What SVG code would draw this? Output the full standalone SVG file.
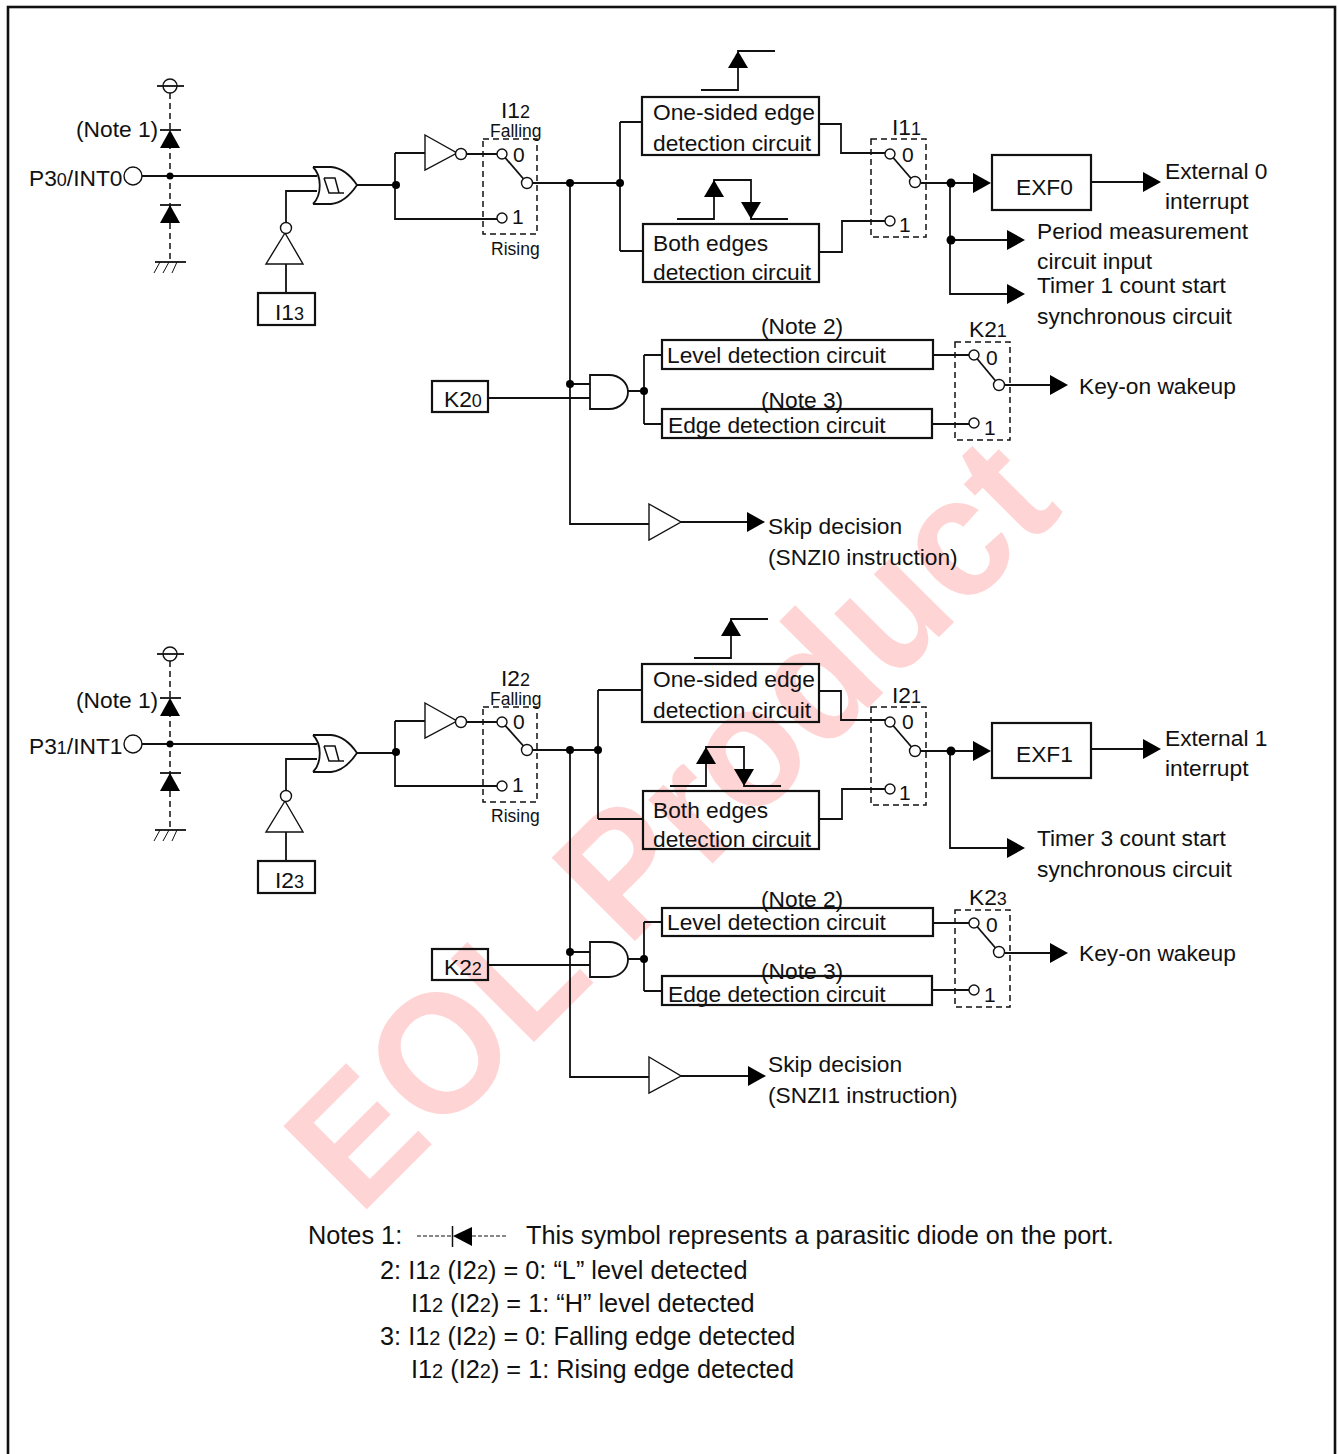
<svg xmlns="http://www.w3.org/2000/svg" width="1339" height="1454" viewBox="0 0 1339 1454">
<style>
text{font-family:"Liberation Sans",Arial,sans-serif;font-size:22.75px;fill:#111}
.s{font-size:18px}
.m{font-size:17.5px}
.n{font-size:21px}
#notes text{font-size:25.3px}
#notes .s{font-size:20px}
.wm{font-size:163px;font-weight:bold;fill:#ffd4d4}
path,line,polyline,rect,circle{fill:none;stroke:#111;stroke-width:1.8}
.box{fill:none;stroke-width:2.2}
.dash{stroke-width:1.5;stroke-dasharray:6 4}
.pd{stroke-width:1.5;stroke-dasharray:6 4}
.o{fill:#fff;stroke-width:1.4}
.d{fill:#000;stroke:none}
.t{fill:#000;stroke:none}
.g{fill:none;stroke-width:1.5}
.b{stroke-width:1.4}
.thin{stroke-width:1}
.fr{stroke-width:2.6}
</style>
<defs>
<polygon id="ar" class="t" points="-18,-10 0,0 -18,10"/>
<polygon id="au" class="t" points="0,0 10,17 -10,17"/>
<polygon id="ad" class="t" points="0,0 10,-17 -10,-17"/>
<g id="diode"><line x1="-10" y1="0" x2="11" y2="0"/><polygon class="t" points="0,0 10,18 -10,18"/></g>
</defs>
<rect id="frame" class="fr" x="8" y="7" width="1327" height="1460"/>
<text id="watermark" class="wm" x="0" y="0" transform="translate(359 1217) rotate(-45) scale(1.005 1.05)">EOL Product</text>

<g id="connectors">
<!-- top block -->
<path class="pd" d="M170 93V262"/>
<path d="M142 176H317M286 222V191H317M286 264V293M357 185H396M395 153V219H497M395 153H425M466 154H497M532 183H620M570 183V524H649M620 122V251M620 122H642M620 251H643"/>
<path d="M681 522H747M488 398H590M570 384H590M628 391H644M644 355V424M644 355H662M644 424H662M933 355H969M932 424H969M1005 385H1050"/>
<path d="M819 124H841V153H885M819 252H842V221H885M921 183H975M950 183V294H1007M950 240H1007M1091 182H1143"/>
<path d="M701 90H738V51H775M677 219H714V180H751V219H788"/>
<use href="#au" x="738" y="51"/><use href="#au" x="714" y="180"/><use href="#ad" x="751" y="219"/>
<use href="#ar" x="991" y="183"/><use href="#ar" x="1161" y="182"/><use href="#ar" x="1025" y="240"/><use href="#ar" x="1025" y="294"/><use href="#ar" x="1068" y="385"/><use href="#ar" x="765" y="522"/>
<circle class="d" cx="170" cy="176" r="3.5"/><circle class="d" cx="396" cy="185" r="4"/><circle class="d" cx="570" cy="183" r="4"/><circle class="d" cx="620" cy="183" r="4"/><circle class="d" cx="951" cy="183" r="4.5"/><circle class="d" cx="951" cy="240" r="4.5"/><circle class="d" cx="570" cy="384" r="4"/><circle class="d" cx="644" cy="391" r="4"/>
<!-- bottom block -->
<path class="pd" d="M170 661V830"/>
<path d="M142 744H317M286 790V759H317M286 832V861M357 753H396M395 721V786H497M395 721H425M466 722H497M532 750H598M570 750V1077H649M598 690V819M598 690H642M598 819H642"/>
<path d="M681 1076H748M488 965H590M570 952H590M628 959H644M644 922V991M644 922H662M644 991H662M933 923H969M932 990H969M1005 953H1050"/>
<path d="M819 691H841V720H885M819 819H842V789H885M921 751H975M950 751V848H1007M1091 749H1143"/>
<path d="M694 658H731V619H768M670 786H706V747H744V786H781"/>
<use href="#au" x="731" y="619"/><use href="#au" x="706" y="747"/><use href="#ad" x="744" y="786"/>
<use href="#ar" x="991" y="751"/><use href="#ar" x="1161" y="749"/><use href="#ar" x="1025" y="848"/><use href="#ar" x="1068" y="953"/><use href="#ar" x="766" y="1076"/>
<circle class="d" cx="170" cy="744" r="3.5"/><circle class="d" cx="396" cy="752" r="4"/><circle class="d" cx="570" cy="750" r="4"/><circle class="d" cx="598" cy="750" r="4"/><circle class="d" cx="951" cy="751" r="4.5"/><circle class="d" cx="570" cy="952" r="4"/><circle class="d" cx="644" cy="959" r="4"/>
</g>

<g id="port-p30">
<text x="29" y="186">P3<tspan class="s">0</tspan>/INT0</text>
<circle class="o" cx="133" cy="176" r="9"/>
<text x="76" y="137">(Note 1)</text>
<circle class="o" cx="170" cy="86" r="7"/><line x1="157" y1="86" x2="184" y2="86"/>
<use href="#diode" x="170" y="130"/><use href="#diode" x="170" y="205"/>
<line x1="155" y1="262" x2="186" y2="262"/><path class="thin" d="M160 262L154 273M169 262L163 273M177 262L172 273"/>
</g>
<g id="schmitt-0">
<path d="M313 167H331C342 168 351 176 357 185C351 194 342 203 331 204H313M313 167C322 176 322 195 313 204"/>
<path class="g" d="M324 178H335L339 193H344M324 178L329 193H339"/>
</g>
<g id="inv-i13"><path class="b" d="M285 233L303 264H266Z"/><circle class="o" cx="286" cy="228" r="5.5"/></g>
<g id="i13"><rect class="box" x="258" y="293" width="57" height="32"/><text x="275" y="320">I1<tspan class="s">3</tspan></text></g>
<g id="inv-a"><path class="b" d="M425 135L457 153L425 170Z"/><circle class="o" cx="461" cy="154" r="5.5"/></g>
<g id="sw-i12">
<text x="501" y="118">I1<tspan class="s">2</tspan></text><text class="m" x="490" y="137">Falling</text><text class="m" x="491" y="255">Rising</text>
<rect class="dash" x="483" y="139" width="54" height="95"/>
<line x1="502" y1="154" x2="527" y2="183"/><circle class="o" cx="502" cy="154" r="5"/><circle class="o" cx="527" cy="183" r="5.5"/><circle class="o" cx="502" cy="218" r="5"/>
<text class="n" x="513" y="162">0</text><text class="n" x="512" y="224">1</text>
</g>
<g id="one-sided-0"><rect class="box" x="642" y="97" width="177" height="58"/><text x="653" y="120">One-sided edge</text><text x="653" y="151">detection circuit</text></g>
<g id="both-0"><rect class="box" x="643" y="224" width="176" height="58"/><text x="653" y="251">Both edges</text><text x="653" y="280">detection circuit</text></g>
<g id="sw-i11">
<text x="892" y="135">I1<tspan class="s">1</tspan></text>
<rect class="dash" x="871" y="139" width="55" height="98"/>
<line x1="890" y1="154" x2="915" y2="183"/><circle class="o" cx="890" cy="154" r="5"/><circle class="o" cx="915" cy="182" r="5.5"/><circle class="o" cx="890" cy="221" r="5"/>
<text class="n" x="902" y="162">0</text><text class="n" x="899" y="232">1</text>
</g>
<g id="exf0"><rect class="box" x="992" y="155" width="99" height="55"/><text x="1016" y="195">EXF0</text></g>
<g id="labels-out-0">
<text x="1165" y="179">External 0</text><text x="1165" y="209">interrupt</text>
<text x="1037" y="239">Period measurement</text><text x="1037" y="269">circuit input</text>
<text x="1037" y="293">Timer 1 count start</text><text x="1037" y="324">synchronous circuit</text>
<text x="1079" y="394">Key-on wakeup</text>
<text x="768" y="534">Skip decision</text><text x="768" y="565">(SNZI0 instruction)</text>
</g>
<g id="k20"><rect class="box" x="432" y="381" width="56" height="31"/><text x="444" y="407">K2<tspan class="s">0</tspan></text></g>
<g id="and-0"><path d="M590 375H609A19 17 0 0 1 609 409H590Z"/></g>
<g id="level-0"><text x="761" y="334">(Note 2)</text><rect class="box" x="662" y="340" width="271" height="29"/><text x="667" y="363">Level detection circuit</text></g>
<g id="edge-0"><text x="761" y="408">(Note 3)</text><rect class="box" x="662" y="409" width="270" height="29"/><text x="668" y="433">Edge detection circuit</text></g>
<g id="sw-k21">
<text x="969" y="337">K2<tspan class="s">1</tspan></text>
<rect class="dash" x="955" y="342" width="55" height="98"/>
<line x1="974" y1="355" x2="999" y2="385"/><circle class="o" cx="974" cy="355" r="5"/><circle class="o" cx="999" cy="385" r="5.5"/><circle class="o" cx="974" cy="423" r="5"/>
<text class="n" x="986" y="365">0</text><text class="n" x="984" y="435">1</text>
</g>
<g id="buf-0"><path class="b" d="M649 504L681 522L649 540Z"/></g>

<g id="port-p31">
<text x="29" y="754">P3<tspan class="s">1</tspan>/INT1</text>
<circle class="o" cx="133" cy="744" r="9"/>
<text x="76" y="708">(Note 1)</text>
<circle class="o" cx="170" cy="654" r="7"/><line x1="157" y1="654" x2="184" y2="654"/>
<use href="#diode" x="170" y="698"/><use href="#diode" x="170" y="773"/>
<line x1="155" y1="830" x2="186" y2="830"/><path class="thin" d="M160 830L154 841M169 830L163 841M177 830L172 841"/>
</g>
<g id="schmitt-1" transform="translate(0 568)">
<path d="M313 167H331C342 168 351 176 357 185C351 194 342 203 331 204H313M313 167C322 176 322 195 313 204"/>
<path class="g" d="M324 178H335L339 193H344M324 178L329 193H339"/>
</g>
<g id="inv-i23"><path class="b" d="M285 801L303 832H266Z"/><circle class="o" cx="286" cy="796" r="5.5"/></g>
<g id="i23"><rect class="box" x="258" y="861" width="57" height="32"/><text x="275" y="888">I2<tspan class="s">3</tspan></text></g>
<g id="inv-b"><path class="b" d="M425 703L457 721L425 738Z"/><circle class="o" cx="461" cy="722" r="5.5"/></g>
<g id="sw-i22">
<text x="501" y="686">I2<tspan class="s">2</tspan></text><text class="m" x="490" y="705">Falling</text><text class="m" x="491" y="822">Rising</text>
<rect class="dash" x="483" y="707" width="54" height="95"/>
<line x1="502" y1="722" x2="527" y2="750"/><circle class="o" cx="502" cy="722" r="5"/><circle class="o" cx="527" cy="750" r="5.5"/><circle class="o" cx="502" cy="786" r="5"/>
<text class="n" x="513" y="729">0</text><text class="n" x="512" y="792">1</text>
</g>
<g id="one-sided-1"><rect class="box" x="642" y="664" width="177" height="58"/><text x="653" y="687">One-sided edge</text><text x="653" y="718">detection circuit</text></g>
<g id="both-1"><rect class="box" x="643" y="791" width="176" height="58"/><text x="653" y="818">Both edges</text><text x="653" y="847">detection circuit</text></g>
<g id="sw-i21">
<text x="892" y="703">I2<tspan class="s">1</tspan></text>
<rect class="dash" x="871" y="707" width="55" height="98"/>
<line x1="890" y1="722" x2="915" y2="751"/><circle class="o" cx="890" cy="722" r="5"/><circle class="o" cx="915" cy="751" r="5.5"/><circle class="o" cx="890" cy="789" r="5"/>
<text class="n" x="902" y="729">0</text><text class="n" x="899" y="800">1</text>
</g>
<g id="exf1"><rect class="box" x="992" y="723" width="99" height="55"/><text x="1016" y="762">EXF1</text></g>
<g id="labels-out-1">
<text x="1165" y="746">External 1</text><text x="1165" y="776">interrupt</text>
<text x="1037" y="846">Timer 3 count start</text><text x="1037" y="877">synchronous circuit</text>
<text x="1079" y="961">Key-on wakeup</text>
<text x="768" y="1072">Skip decision</text><text x="768" y="1103">(SNZI1 instruction)</text>
</g>
<g id="k22"><rect class="box" x="432" y="949" width="56" height="31"/><text x="444" y="975">K2<tspan class="s">2</tspan></text></g>
<g id="and-1"><path d="M590 942H609A19 17.500 0 0 1 609 977H590Z"/></g>
<g id="level-1"><text x="761" y="907">(Note 2)</text><rect class="box" x="662" y="908" width="271" height="28"/><text x="667" y="930">Level detection circuit</text></g>
<g id="edge-1"><text x="761" y="979">(Note 3)</text><rect class="box" x="662" y="976" width="270" height="29"/><text x="668" y="1002">Edge detection circuit</text></g>
<g id="sw-k23">
<text x="969" y="905">K2<tspan class="s">3</tspan></text>
<rect class="dash" x="955" y="910" width="55" height="97"/>
<line x1="974" y1="923" x2="999" y2="952"/><circle class="o" cx="974" cy="923" r="5"/><circle class="o" cx="999" cy="952" r="5.5"/><circle class="o" cx="974" cy="990" r="5"/>
<text class="n" x="986" y="932">0</text><text class="n" x="984" y="1002">1</text>
</g>
<g id="buf-1"><path class="b" d="M649 1057L681 1076L649 1093Z"/></g>

<g id="notes">
<text x="308" y="1244">Notes 1:</text>
<path class="thin" stroke-dasharray="4 2" d="M417 1236H452M472 1236H507"/>
<line x1="452.500" y1="1226" x2="452.500" y2="1247" style="stroke-width:1.5"/>
<polygon class="t" points="453,1236 472,1227 472,1246"/>
<text x="526" y="1244">This symbol represents a parasitic diode on the port.</text>
<text x="380" y="1279">2: I1<tspan class="s">2</tspan> (I2<tspan class="s">2</tspan>) = 0: “L” level detected</text>
<text x="411" y="1312">I1<tspan class="s">2</tspan> (I2<tspan class="s">2</tspan>) = 1: “H” level detected</text>
<text x="380" y="1345">3: I1<tspan class="s">2</tspan> (I2<tspan class="s">2</tspan>) = 0: Falling edge detected</text>
<text x="411" y="1378">I1<tspan class="s">2</tspan> (I2<tspan class="s">2</tspan>) = 1: Rising edge detected</text>
</g>
</svg>
